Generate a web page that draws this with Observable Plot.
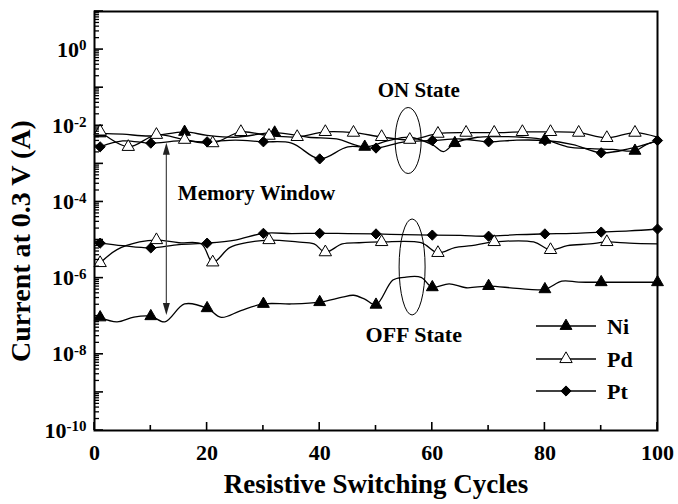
<!DOCTYPE html>
<html><head><meta charset="utf-8">
<script src="https://cdn.jsdelivr.net/npm/d3@7"></script>
<script src="https://cdn.jsdelivr.net/npm/@observablehq/plot@0.6"></script>
<style>
body{margin:0;background:#fff;}
#wrap{position:relative;width:678px;height:504px;font-family:"Liberation Serif","Times New Roman",serif;}
#legend{position:absolute;left:0;top:0;}
</style></head><body><div id="wrap"></div>
<script>
// ---------- data ----------
const metals = ["Ni", "Pd", "Pt"];

// Ni – OFF state
const niOffCycles  = [1,4,7,10,12.5,16,20,22.5,26,30,35,40,44,46,48,50,53,55,58,60,63,66,70,75,80,83,86,90,95,100];
const niOffCurrent = [9.3e-8,7.1e-8,9.5e-8,1.0e-7,7.1e-8,2.1e-7,1.62e-7,9.3e-8,1.41e-7,2.1e-7,2.1e-7,2.34e-7,3.16e-7,3.55e-7,2.8e-7,2.0e-7,8.9e-7,1.05e-6,1.05e-6,5.75e-7,7.1e-7,5.6e-7,6.2e-7,5.4e-7,5.1e-7,8.3e-7,7.9e-7,7.8e-7,7.8e-7,7.8e-7];
const niOffMarkers = [1,10,20,30,40,50,60,70,80,90,100];
// Ni – ON state
const niOnCycles  = [1,5,10,16,20,25,32,38,43,48,52,56,60,62,64,68,72,76,80,84,88,92,96,98,100];
const niOnCurrent = [6.3e-3,6.0e-3,5.4e-3,6.9e-3,5.6e-3,5.0e-3,6.6e-3,5.0e-3,4.5e-3,2.8e-3,4.0e-3,5.0e-3,3.2e-3,2.1e-3,3.5e-3,5.0e-3,5.2e-3,5.0e-3,4.3e-3,2.8e-3,2.5e-3,2.4e-3,2.2e-3,3.2e-3,4.0e-3];
const niOnMarkers = [1,16,32,48,64,80,96];

// Pd – OFF state
const pdOffCycles  = [1,4,8,11,15,19,21,24,27,31,36,39,41,44,47,51,58,61,64,67,71,78,81,84,88,91,95,100];
const pdOffCurrent = [2.5e-6,5.6e-6,8.9e-6,1.0e-5,8.5e-6,7.9e-6,2.6e-6,6.3e-6,8.5e-6,1.0e-5,8.9e-6,7.9e-6,4.8e-6,7.9e-6,8.5e-6,8.9e-6,8.5e-6,4.6e-6,6.3e-6,7.1e-6,8.9e-6,8.9e-6,5.5e-6,7.1e-6,7.9e-6,8.9e-6,8.3e-6,7.9e-6];
const pdOffMarkers = [1,11,21,31,41,51,61,71,81,91];
// Pd – ON state
const pdOnCycles  = [1,6,11,16,21,26,31,36,41,46,51,56,61,66,71,76,81,86,91,96,100];
const pdOnCurrent = [7.1e-3,2.8e-3,5.8e-3,4.3e-3,3.5e-3,6.9e-3,5.5e-3,5.1e-3,6.9e-3,6.6e-3,5.1e-3,4.3e-3,6.2e-3,6.6e-3,6.6e-3,6.9e-3,6.9e-3,6.6e-3,4.8e-3,6.6e-3,5.0e-3];
const pdOnMarkers = [1,6,11,16,21,26,31,36,41,46,51,56,61,66,71,76,81,86,91,96];

// Pt – OFF state
const ptOffCycles  = [1,5,10,15,20,25,30,35,40,45,50,55,60,65,70,75,80,85,90,95,100];
const ptOffCurrent = [8.3e-6,7.1e-6,6.2e-6,7.6e-6,8.3e-6,1.0e-5,1.5e-5,1.48e-5,1.5e-5,1.48e-5,1.45e-5,1.38e-5,1.35e-5,1.32e-5,1.26e-5,1.38e-5,1.45e-5,1.5e-5,1.62e-5,1.74e-5,1.95e-5];
const ptOffMarkers = [1,10,20,30,40,50,60,70,80,90,100];
// Pt – ON state
const ptOnCycles  = [1,5,10,15,20,25,30,35,40,45,50,55,60,65,70,75,80,85,90,95,100];
const ptOnCurrent = [2.8e-3,4.0e-3,3.5e-3,4.0e-3,3.8e-3,4.2e-3,3.8e-3,3.5e-3,1.35e-3,2.8e-3,2.6e-3,3.8e-3,4.1e-3,4.5e-3,3.8e-3,4.2e-3,4.1e-3,3.2e-3,1.95e-3,2.5e-3,4.1e-3];
const ptOnMarkers = [1,10,20,30,40,50,60,70,80,90,100];

// axis ticks
const xMajorTicks = [0,20,40,60,80,100];
const xMinorTicks = [10,30,50,70,90];
const yLabelTicks = [1e-10,1e-8,1e-6,1e-4,1e-2,1];
const yMajorTicks = [1e-10,1e-9,1e-8,1e-7,1e-6,1e-5,1e-4,1e-3,1e-2,1e-1,1,10];

// ---------- build tables ----------
const traces = [
  {metal:"Ni", state:"OFF", x:niOffCycles, y:niOffCurrent, m:niOffMarkers},
  {metal:"Ni", state:"ON",  x:niOnCycles,  y:niOnCurrent,  m:niOnMarkers},
  {metal:"Pd", state:"OFF", x:pdOffCycles, y:pdOffCurrent, m:pdOffMarkers},
  {metal:"Pd", state:"ON",  x:pdOnCycles,  y:pdOnCurrent,  m:pdOnMarkers},
  {metal:"Pt", state:"OFF", x:ptOffCycles, y:ptOffCurrent, m:ptOffMarkers},
  {metal:"Pt", state:"ON",  x:ptOnCycles,  y:ptOnCurrent,  m:ptOnMarkers}
];
const rows = [], markerRows = [];
for (const t of traces) {
  t.x.forEach((c, i) => {
    const r = {trace: t.metal + t.state, metal: t.metal, cycle: c, current: t.y[i]};
    rows.push(r);
    if (t.m.includes(c)) markerRows.push(r);
  });
}
const yMinorTicks = [];
for (let e = -10; e < 1; e++) for (let k = 2; k <= 9; k++) yMinorTicks.push(k * Math.pow(10, e));

const style = {
  Ni: {symbol: "triangle", fill: "black", stroke: "black", r: 4.4},
  Pd: {symbol: "triangle", fill: "white", stroke: "black", r: 4.6},
  Pt: {symbol: "diamond2", fill: "black", stroke: "black", r: 4.6}
};

const W = 678, H = 504;

// inward axis ticks, ellipses and memory-window arrow, all positioned through the scales
function annotations(index, scales) {
  const g = d3.create("svg:g");
  const left = scales.x(0), bottom = scales.y(1e-10);
  const tickLine = (x1, y1, x2, y2, w) => g.append("line").attr("x1", x1).attr("y1", y1).attr("x2", x2).attr("y2", y2)
      .attr("stroke", "black").attr("stroke-width", w);
  xMajorTicks.forEach(t => tickLine(scales.x(t), bottom, scales.x(t), bottom - 8, 1.6));
  xMinorTicks.forEach(t => tickLine(scales.x(t), bottom, scales.x(t), bottom - 5, 1.6));
  yMajorTicks.forEach(t => tickLine(left, scales.y(t), left + 9, scales.y(t), 1.6));
  yMinorTicks.forEach(t => tickLine(left, scales.y(t), left + 5, scales.y(t), 1.3));

  const ell = [ {cx: 55.8, cy: Math.pow(10,-2.40), rx: 13, ry: 33},
                {cx: 56.5, cy: Math.pow(10,-5.72), rx: 13, ry: 48} ];
  for (const e of ell) {
    g.append("ellipse").attr("cx", scales.x(e.cx)).attr("cy", scales.y(e.cy))
      .attr("rx", e.rx).attr("ry", e.ry).attr("fill", "none").attr("stroke", "black").attr("stroke-width", 1);
  }
  const ax = scales.x(12.85), y1 = scales.y(Math.pow(10,-2.46)), y2 = scales.y(Math.pow(10,-6.98));
  g.append("line").attr("x1", ax).attr("x2", ax).attr("y1", y1 + 10).attr("y2", y2 - 10)
    .attr("stroke", "#444").attr("stroke-width", 1.2);
  g.append("path").attr("d", `M${ax},${y1}L${ax-3.5},${y1+12}L${ax+3.5},${y1+12}Z`).attr("fill", "#222");
  g.append("path").attr("d", `M${ax},${y2}L${ax-3.5},${y2-12}L${ax+3.5},${y2-12}Z`).attr("fill", "#222");
  return g.node();
}

const font = "Liberation Serif, Times New Roman, serif";

const plot = Plot.plot({
  width: W, height: H,
  marginLeft: 94, marginRight: 21, marginTop: 11, marginBottom: 74,
  style: {fontFamily: font, background: "white", color: "black"},
  x: {domain: [0, 100]},
  y: {type: "log", domain: [1e-10, 10]},
  marks: [
    Plot.axisX({ticks: xMajorTicks, tickSize: 0, tickPadding: 14, fontSize: 22, fontWeight: "bold", label: null}),
    Plot.axisY({ticks: yLabelTicks, tickSize: 0, tickPadding: 8, fontSize: 22, fontWeight: "bold", label: null,
                tickFormat: d => String(Math.round(Math.log10(d)))}),
    Plot.line(rows, {x: "cycle", y: "current", z: "trace", curve: "catmull-rom", stroke: "black", strokeWidth: 1.3}),
    ...metals.map(m => Plot.dot(markerRows.filter(d => d.metal === m), {x: "cycle", y: "current", ...style[m], strokeWidth: 1})),
    annotations,
    Plot.text(["Memory Window"], {x: 14.8, y: Math.pow(10,-3.78), textAnchor: "start", fontSize: 21, fontWeight: "bold"}),
    Plot.text(["ON State"], {x: 57.6, y: Math.pow(10,-1.07), fontSize: 21, fontWeight: "bold"}),
    Plot.text(["OFF State"], {x: 56.7, y: Math.pow(10,-7.5), fontSize: 22, fontWeight: "bold"}),
    Plot.text(["Resistive Switching Cycles"], {frameAnchor: "bottom", dy: 54, lineAnchor: "middle", textAnchor: "middle", fontSize: 27, fontWeight: "bold"}),
    Plot.text(["Current at 0.3 V (A)"], {frameAnchor: "left", dx: -73, dy: 20, rotate: -90, lineAnchor: "middle", textAnchor: "middle", fontSize: 28, fontWeight: "bold"}),
    Plot.frame({stroke: "black", strokeWidth: 2})
  ]
});

// superscript exponents on the y tick labels
d3.select(plot).selectAll('g[aria-label="y-axis tick label"] text').each(function() {
  const exp = this.textContent;
  if (exp === "") return;
  const t = d3.select(this);
  t.text("10");
  t.append("tspan").attr("dy", "-0.42em").attr("font-size", 15).text(exp);
});

const wrap = document.getElementById("wrap");
wrap.appendChild(plot);

// legend overlay
const leg = d3.select(wrap).append("svg").attr("id", "legend").attr("width", W).attr("height", H);
const legRowY = {Ni: 326, Pd: 359, Pt: 391};
for (const m of metals) {
  const y = legRowY[m], s = style[m];
  leg.append("line").attr("x1", 536).attr("x2", 596).attr("y1", y).attr("y2", y).attr("stroke", "black").attr("stroke-width", 1.3);
  const type = m === "Pt" ? d3.symbolDiamond2 : d3.symbolTriangle;
  leg.append("path").attr("d", d3.symbol(type, Math.PI * s.r * s.r)())
    .attr("transform", `translate(566,${y})`).attr("fill", s.fill).attr("stroke", "black").attr("stroke-width", 1);
  leg.append("text").attr("x", 607).attr("y", y).attr("dy", "0.35em").attr("font-size", 22)
    .attr("font-weight", "bold").attr("font-family", font).text(m);
}
</script></body></html>
